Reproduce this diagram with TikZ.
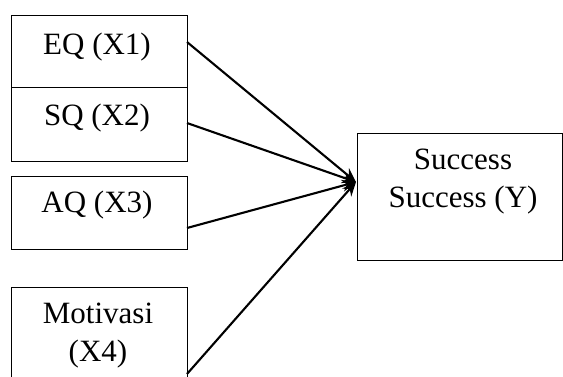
\documentclass[tikz,border=0pt]{standalone}
\usepackage{fontspec}
\setmainfont{Liberation Serif}
\usetikzlibrary{arrows.meta}
\begin{document}
\begin{tikzpicture}[x=1pt,y=-1pt,
  box/.style={draw=black,line width=1.2pt,rectangle,inner sep=0pt},
  txt/.style={inner sep=0pt,font=\fontsize{31}{38}\selectfont,align=center},
  conn/.style={line width=2.1pt,-{Stealth[length=14pt,width=12pt]}}]
\useasboundingbox (0,0) rectangle (563,376);
\fill[white] (0,0) rectangle (563,376);
% boxes
\node[box,minimum width=176pt,minimum height=72pt,anchor=north west] (eq) at (11,15) {};
\node[box,minimum width=176pt,minimum height=74pt,anchor=north west] (sq) at (11,87) {};
\node[box,minimum width=176pt,minimum height=73pt,anchor=north west] (aq) at (11,176) {};
\node[box,minimum width=176pt,minimum height=100pt,anchor=north west] (mo) at (11,287) {};
\node[box,minimum width=205pt,minimum height=127pt,anchor=north west] (ys) at (356.5,133) {};
% texts
\node[txt] (eqt) at (97,47) {EQ (X1)};
\node[txt] (sqt) at (97,118) {SQ (X2)};
\node[txt] (aqt) at (97,205) {AQ (X3)};
\node[txt] (mot) at (98,336) {Motivasi\\(X4)};
\node[txt] (yst) at (463,182) {Success\\Success (Y)};
% connector anchors
\coordinate (s1) at (187,42);
\coordinate (s2) at (187,123);
\coordinate (s3) at (187,228);
\coordinate (s4) at (187,374);
\coordinate (tg) at (356,182);
\draw[conn] (s1) -- (tg);
\draw[conn] (s2) -- (tg);
\draw[conn] (s3) -- (tg);
\draw[conn] (s4) -- (tg);
\end{tikzpicture}
\end{document}
